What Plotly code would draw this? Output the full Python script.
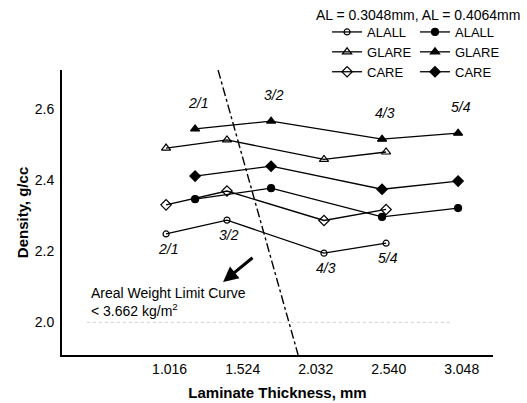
import plotly.graph_objects as go

# ---- data ----
x_thin = [0.991, 1.415, 2.090, 2.522]      # AL = 0.3048 mm laminates (2/1, 3/2, 4/3, 5/4)
x_thick = [1.193, 1.722, 2.494, 3.023]     # AL = 0.4064 mm laminates
alall_thin = [2.249, 2.288, 2.195, 2.223]
glare_thin = [2.491, 2.514, 2.459, 2.480]
care_thin = [2.331, 2.370, 2.287, 2.318]
alall_thick = [2.347, 2.378, 2.297, 2.322]
glare_thick = [2.545, 2.567, 2.516, 2.533]
care_thick = [2.412, 2.440, 2.375, 2.398]
ratio_labels = ["2/1", "3/2", "4/3", "5/4"]
limit_x = [1.353, 1.910]
limit_y = [2.711, 1.908]
x_ticks = [1.016, 1.524, 2.032, 2.540, 3.048]
y_ticks = [2.0, 2.2, 2.4, 2.6]

FONT = "Liberation Sans, Arial, sans-serif"

fig = go.Figure()

def add(x, y, name, symbol, size, legend):
    fig.add_trace(go.Scatter(
        x=x, y=y, name=name, mode="lines+markers",
        line=dict(color="black", width=1.3),
        marker=dict(symbol=symbol, size=size, color="black",
                    line=dict(color="black", width=1.2)),
        legend=legend,
    ))

add(x_thin, alall_thin, "ALALL", "circle-open", 6, "legend")
add(x_thin, glare_thin, "GLARE", "triangle-up-open", 8, "legend")
add(x_thin, care_thin, "CARE", "diamond-open", 8, "legend")
add(x_thick, alall_thick, "ALALL", "circle", 7, "legend2")
add(x_thick, glare_thick, "GLARE", "triangle-up", 8, "legend2")
add(x_thick, care_thick, "CARE", "diamond", 8, "legend2")

# areal weight limit curve
fig.add_trace(go.Scatter(x=limit_x, y=limit_y, mode="lines", showlegend=False,
                         line=dict(color="black", width=1.4, dash="dashdot")))

# faint dotted line at 2.0
fig.add_shape(type="line", xref="x", yref="y", x0=0.44, x1=2.97, y0=2.0, y1=2.0,
              line=dict(color="#d0d0d0", width=1, dash="dot"))

# ratio labels
for i, lab in enumerate(ratio_labels):
    fig.add_annotation(x=x_thick[i], y=glare_thick[i], text=lab, showarrow=False,
                       yshift=26, xshift=3,
                       font=dict(family=FONT, size=14, color="black", style="italic"))
    fig.add_annotation(x=x_thin[i], y=alall_thin[i], text=lab, showarrow=False,
                       yshift=-15, xshift=2,
                       font=dict(family=FONT, size=14, color="black", style="italic"))

# arrow
fig.add_annotation(x=1.388, y=2.114, ax=1.617, ay=2.190, axref="x", ayref="y",
                   showarrow=True, arrowhead=2, arrowsize=1.0, arrowwidth=3,
                   arrowcolor="black", text=" ")
fig.add_annotation(x=0.455, y=2.056, xanchor="left", yanchor="middle", align="left",
                   text="Areal Weight Limit Curve<br>&lt; 3.662 kg/m<sup>2</sup>",
                   showarrow=False, font=dict(family=FONT, size=14, color="black"))

# legend title
fig.add_annotation(xref="paper", yref="paper", x=0.825, y=1.193,
                   xanchor="center", yanchor="middle",
                   text="AL = 0.3048mm, AL = 0.4064mm", showarrow=False,
                   font=dict(family=FONT, size=14, color="black"))

legend_common = dict(bgcolor="rgba(0,0,0,0)", borderwidth=0,
                     font=dict(family=FONT, size=13, color="black"),
                     xanchor="left", yanchor="top", tracegroupgap=0,
                     itemclick=False)

fig.update_layout(
    width=527, height=403,
    margin=dict(l=62, r=34, t=70, b=48),
    paper_bgcolor="white", plot_bgcolor="white",
    font=dict(family=FONT, size=14, color="black"),
    legend=dict(x=0.615, y=1.186, **legend_common),
    legend2=dict(x=0.819, y=1.186, **legend_common),
    xaxis=dict(range=[0.267, 3.266], tickvals=x_ticks, tickformat=".3f",
               showgrid=False, zeroline=False, showline=True, linecolor="black",
               linewidth=2, ticks="", ticklabelstandoff=0,
               title=dict(text="<b>Laminate Thickness, mm</b>", standoff=12,
                          font=dict(family=FONT, size=15))),
    yaxis=dict(range=[1.908, 2.711], tickvals=y_ticks, tickformat=".1f",
               showgrid=False, zeroline=False, showline=True, linecolor="black",
               linewidth=2, ticks="", ticklabelstandoff=3,
               title=dict(text="<b>Density, g/cc</b>", standoff=2,
                          font=dict(family=FONT, size=15))),
)
fig.update_xaxes(automargin=False)
fig.update_yaxes(automargin=False)

fig.write_html("out.html")
